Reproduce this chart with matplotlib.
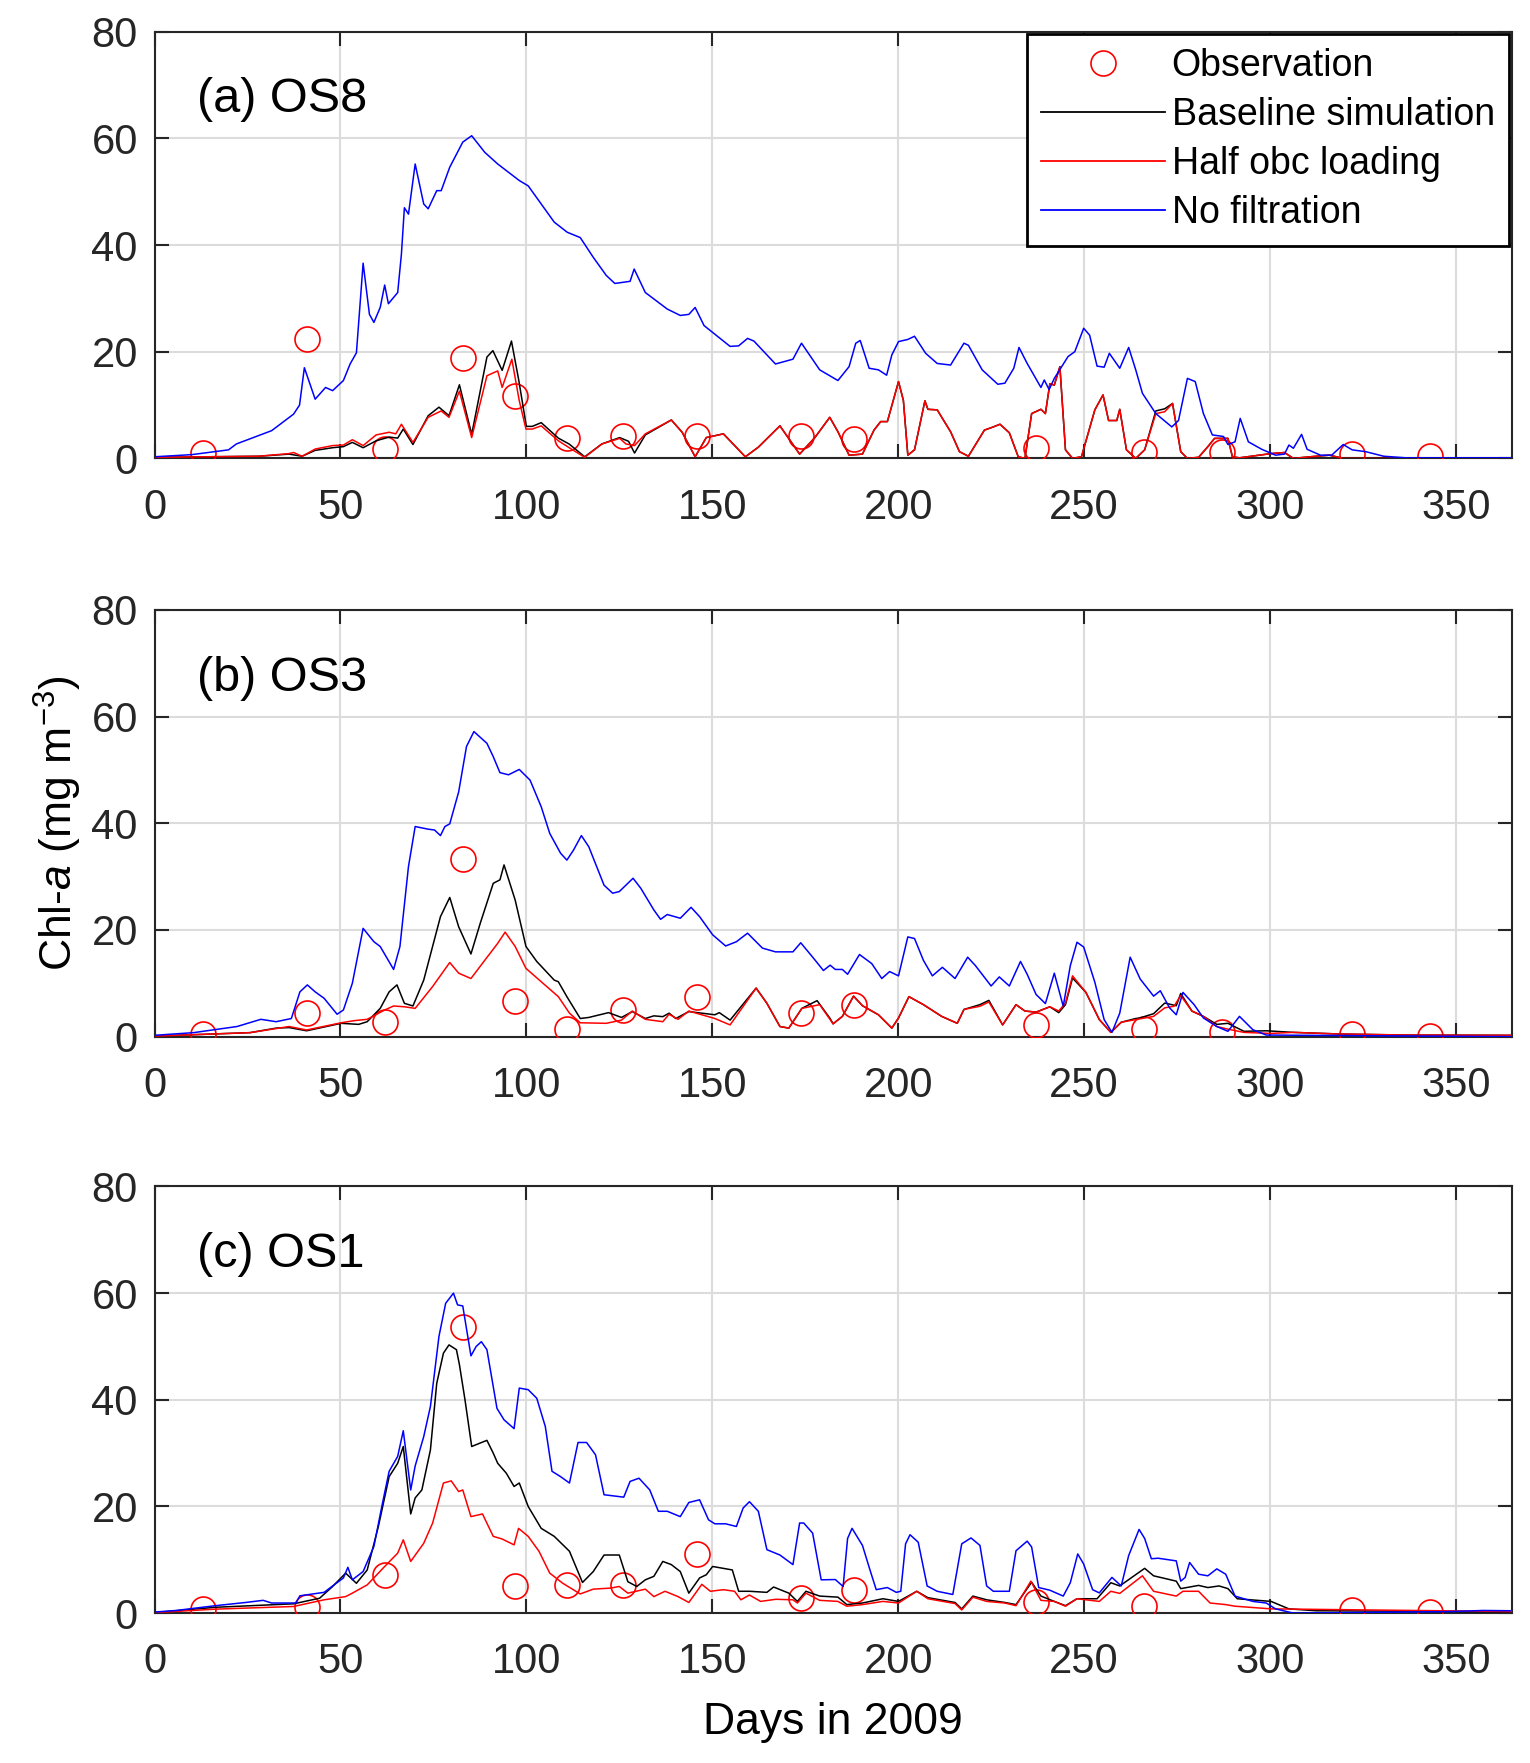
import numpy as np
import matplotlib
matplotlib.use("Agg")
import matplotlib.pyplot as plt
from matplotlib.lines import Line2D

plt.rcParams['font.family'] = ['Liberation Sans', 'DejaVu Sans']
plt.rcParams['mathtext.fontset'] = 'custom'
plt.rcParams['mathtext.rm'] = 'Liberation Sans'
plt.rcParams['mathtext.it'] = 'Liberation Sans:italic'

# observation days (same cruise dates at every station)
obs_days = [13, 41, 62, 83, 97, 111, 126, 146, 174, 188, 237, 266, 287, 322, 343]
os8_obs = [1.1, 22.4, 1.75, 18.8, 11.75, 3.9, 4.25, 4.25, 4.25, 3.6, 1.9, 1.25, 1.25, 0.75, 0.4]
os3_obs = [0.5, 4.4, 2.8, 33.25, 6.75, 1.4, 5.0, 7.4, 4.4, 6.0, 2.1, 1.5, 0.8, 0.45, 0.1]
os1_obs = [0.75, 1.1, 7.1, 53.6, 5.1, 5.3, 5.3, 11.1, 2.8, 4.3, 2.0, 1.3, np.nan, 0.6, 0.3]

# (day, chl) pairs
os8_base = [(0, 0.2), (28, 0.4), (36.2, 0.8), (39.7, 0.4), (43.2, 1.5), (47.9, 2.0), (50.8, 2.2),
            (53.2, 3.0), (56.1, 2.0), (59.6, 3.3), (63.1, 4.0), (65.4, 3.8), (66.9, 5.5), (69.5, 2.6),
            (73.6, 8.0), (76.5, 9.6), (79.2, 8.0), (82, 13.8), (85.3, 4.5), (89.4, 19.0), (91, 20.2),
            (93.5, 16.5), (96, 22.0), (98, 14.5), (100, 6.0), (101.6, 6.0), (104, 6.7), (108.6, 3.8),
            (111.5, 2.7), (115.7, 0.3), (120.3, 2.7), (125.1, 3.9), (127.5, 3.2), (129.1, 1.0), (132, 4.4),
            (139, 7.2), (141.9, 4.9), (145.4, 0.3), (148.4, 3.9), (153, 4.6), (158.9, 0.3), (162.4, 2.1),
            (168.2, 6.1), (173.5, 0.8), (177.6, 3.9), (181.6, 7.7), (183.8, 5), (186.8, 0.6), (190.4, 0.8),
            (193.5, 5.3), (195.3, 6.9), (197.1, 6.9), (200.1, 14.4), (201.4, 10.9), (202.6, 0.6),
            (204.4, 1.6), (207.2, 10.8), (208, 9.2), (210.5, 9.1), (214.1, 5), (216.5, 1.25), (218.9, 0.4),
            (223.2, 5.3), (225.6, 5.9), (227.4, 6.4), (229.9, 4.8), (232.3, 0.3), (234.1, 0), (235.9, 8.4),
            (238.4, 9.2), (239.6, 8.4), (240.8, 14), (242, 13.75), (243.5, 17.2), (245, 1.6), (246.9, 0),
            (249.3, 0.3), (252.9, 9.1), (255.1, 11.9), (256.6, 7.1), (258.8, 7.1), (259.6, 9.2),
            (261.4, 1.6), (263.9, 0), (266.3, 1.6), (269.3, 8.9), (271.7, 9.3), (273.8, 10.3), (276, 1.25),
            (277.8, 0), (280.8, 0.2), (283.3, 2.2), (285.1, 3.75), (288.7, 3.75), (289.9, 0.3),
            (291.8, 0.1), (300.3, 0.9), (303.9, 1.1), (306.3, 0), (312.4, 0.4), (316, 0.6), (319.7, 0),
            (365, 0)]
os8_half = [(0, 0.2), (28, 0.4), (36.2, 0.9), (37.4, 1.1), (39.7, 0.4), (43.2, 1.75), (47.9, 2.4),
            (50.8, 2.5), (53.2, 3.5), (56.1, 2.4), (59.6, 4.4), (63.1, 4.9), (64.9, 4.6), (66.4, 6.4),
            (69.5, 3.0), (73.6, 7.7), (77.1, 8.9), (79.2, 7.7), (82, 12.6), (85.3, 3.9), (89.4, 15.5),
            (92.3, 16.4), (93.5, 13.3), (96.1, 18.6), (98.1, 10.8), (99.9, 5.5), (101.6, 5.5), (104, 6.1),
            (108.6, 3.3), (112.1, 1.75), (115.7, 0.2), (120.3, 2.7), (125.1, 3.75), (126.8, 2.7),
            (129.1, 2.4), (132, 4.6), (139, 7.2), (141.9, 4.9), (145.4, 0.3), (148.4, 3.9), (153, 4.6),
            (158.9, 0.3), (162.4, 2.1), (168.2, 6.1), (173.5, 0.8), (177.6, 3.9), (181.6, 7.7), (183.8, 5),
            (186.8, 0.6), (190.4, 0.8), (193.5, 5.3), (195.3, 6.9), (197.1, 6.9), (200.1, 14.4),
            (201.4, 10.9), (202.6, 0.6), (204.4, 1.6), (207.2, 10.8), (208, 9.2), (210.5, 9.1), (214.1, 5),
            (216.5, 1.25), (218.9, 0.4), (223.2, 5.3), (225.6, 5.9), (227.4, 6.4), (229.9, 4.8),
            (232.3, 0.3), (234.1, 0), (235.9, 8.4), (238.4, 9.2), (239.6, 8.4), (240.8, 14), (242, 13.75),
            (243.5, 17.2), (245, 1.6), (246.9, 0), (249.3, 0.3), (252.9, 9.1), (255.1, 11.9), (256.6, 7.1),
            (258.8, 7.1), (259.6, 9.2), (261.4, 1.6), (263.9, 0), (266.3, 1.6), (269.3, 8.4), (271.7, 8.75),
            (273.8, 10.3), (276, 1.25), (277.8, 0), (280.8, 0.2), (283.3, 2.2), (285.1, 3.75),
            (288.7, 3.75), (289.9, 0.3), (291.8, 0.1), (300.3, 0.9), (303.9, 1.1), (306.3, 0), (312.4, 0.4),
            (316, 0.6), (319.7, 0), (365, 0)]
os8_nofilt = [(0, 0.3), (10, 0.7), (19.9, 1.6), (22, 2.7), (31.5, 5.2), (37.4, 8.3), (39, 10), (40.3, 17),
              (43.2, 11.1), (46, 13.3), (47.9, 12.7), (50.8, 14.6), (52.6, 17.7), (54.3, 19.8), (56.1, 36.6),
              (57.8, 27), (59, 25.5), (60.7, 28.3), (61.9, 32.5), (62.9, 29), (65.4, 31.1), (66.4, 38.3),
              (67.2, 47), (68.3, 45.8), (70.1, 55.2), (72.4, 47.7), (73.6, 46.8), (75.9, 50.2), (77.1, 50.2),
              (79.4, 54.6), (82.9, 59.3), (85.3, 60.5), (88.8, 57.4), (92.3, 55.2), (98.1, 52.1),
              (100.5, 51.1), (104, 47.7), (107.5, 44.3), (111, 42.4), (114.5, 41.4), (118, 37.7),
              (121.5, 34.3), (123.8, 32.8), (127.9, 33.2), (129, 35.5), (132, 31.1), (137.9, 28),
              (141.4, 26.8), (143.7, 27), (145.4, 28.3), (147.8, 24.9), (154.8, 21), (157.1, 21.1),
              (159.5, 22.5), (161.2, 22), (167, 17.7), (171.7, 18.6), (174, 21.6), (178.9, 16.6),
              (183.8, 14.6), (186.8, 17.2), (188.6, 21.6), (189.8, 22.1), (192.2, 16.9), (194.7, 16.6),
              (196.9, 15.6), (198.3, 19.4), (200.1, 21.9), (202.6, 22.3), (204.4, 22.9), (207.4, 19.7),
              (210.5, 17.8), (214.1, 17.5), (217.7, 21.6), (218.9, 21.2), (222.6, 16.6), (226.8, 13.9),
              (228.7, 14.1), (231.1, 16.9), (232.5, 20.8), (234.7, 17.8), (238.4, 13.3), (239.3, 14.7),
              (240.6, 12.9), (242, 15), (245.7, 19.1), (247.5, 20), (249.9, 24.4), (251.5, 23.1),
              (253.5, 17.3), (255.4, 17.1), (256.8, 19.7), (259.6, 16.9), (262, 20.8), (263.9, 16.6),
              (265.7, 12.2), (269.3, 8.4), (273.6, 5.9), (275.4, 7.1), (277.8, 15), (279.9, 14.4),
              (282.1, 8.4), (284.5, 4.4), (287.5, 4.1), (288.7, 2.6), (290.6, 3.1), (292, 7.5), (294.2, 3.1),
              (297.8, 1.7), (301.5, 0.6), (303.9, 0.8), (305.1, 2.5), (306.3, 1.9), (308.5, 4.5), (310, 1.7),
              (313.6, 0.6), (316.6, 0.6), (319.7, 2.6), (322.1, 1.6), (325.8, 1.25), (330.6, 0.4),
              (336.7, 0.1), (365, 0.1)]

os3_base = [(0, 0.1), (25.7, 0.75), (32.7, 1.6), (36.2, 1.7), (40.9, 1.1), (50.2, 2.5), (54.9, 2.3),
            (57.2, 2.8), (60.7, 5.3), (63.1, 8.4), (65.2, 9.7), (67.2, 6.25), (69.5, 5.75), (72.4, 10.6),
            (76.9, 22.5), (79.4, 26.1), (81.8, 20.6), (85.1, 15.5), (87.6, 21.25), (91.1, 28.75),
            (92.9, 29.4), (94, 32.2), (97, 25.6), (99.9, 16.9), (102.8, 14.1), (107.5, 10.6), (108.6, 10.3),
            (110.9, 7.5), (114.5, 3.4), (116.8, 3.6), (122.1, 4.5), (125.6, 3.6), (128.5, 4.7), (132, 3.4),
            (134.3, 3.9), (136.7, 3.75), (138.4, 4.4), (140.2, 3.4), (143.7, 4.7), (150.7, 4.1),
            (151.9, 4.5), (154.8, 3.1), (161.8, 9.1), (164.7, 6.25), (168.2, 1.9), (170.6, 1.6),
            (174.1, 5.3), (178.2, 6.75), (181.7, 3.4), (182.5, 2.4), (185, 3.8), (188, 7.6), (190.4, 5.8),
            (194.7, 4.1), (198.3, 1.6), (200.1, 3.5), (202.9, 7.5), (206.8, 6), (211.7, 3.8), (215.9, 2.5),
            (217.7, 5.1), (222, 6.0), (224.4, 6.8), (228.1, 2.2), (231.7, 6), (234.1, 4.8), (237.1, 4.6),
            (240.8, 5.6), (243.2, 4.5), (245, 6.0), (246.9, 11.0), (250.5, 8.3), (254.1, 3.2), (257.2, 0.8),
            (260, 2.7), (263.9, 3.4), (265, 3.5), (268.7, 4.3), (271.7, 6.3), (274.8, 5.8), (276, 8.1),
            (279, 4.8), (282.1, 3.8), (285.7, 2.3), (288.7, 2.5), (293, 1.0), (299, 1.1), (306.3, 0.8),
            (318.5, 0.5), (336.7, 0.3), (365, 0.25)]
os3_half = [(0, 0.1), (25.7, 0.75), (36.2, 1.9), (40.9, 1.25), (50.2, 2.6), (53.7, 3.0), (57.2, 3.25),
            (61.9, 5.0), (64.3, 5.75), (67.2, 5.6), (70.1, 5.3), (74.8, 9.4), (79.4, 13.9), (81.8, 11.9),
            (85.1, 10.9), (88.2, 13.75), (92.3, 17.5), (94.3, 19.6), (97, 16.9), (99.9, 12.8), (104, 10.3),
            (108.6, 7.5), (111.6, 4.4), (114.5, 2.6), (121.5, 2.5), (125.6, 3.1), (128.5, 4.8), (132, 3.25),
            (136.7, 2.8), (138.4, 4.2), (140.8, 3.25), (143.7, 4.8), (150.7, 3.4), (154.8, 2.2),
            (161.8, 9.1), (164.7, 6.25), (168.2, 1.9), (170.6, 1.6), (174.1, 5.3), (178.9, 6.0),
            (182.5, 2.4), (185, 3.8), (188, 7.6), (190.4, 5.8), (194.7, 4.1), (198.3, 1.6), (200.1, 3.5),
            (202.9, 7.5), (206.8, 6), (211.7, 3.8), (215.9, 2.5), (217.7, 5.1), (222, 5.7), (224.4, 6.5),
            (228.1, 2.2), (231.7, 6), (234.1, 4.8), (237.1, 4.6), (240.8, 5.6), (243.2, 4.8), (245, 6.3),
            (246.9, 11.4), (250.5, 8.3), (254.1, 3.2), (257.2, 0.8), (260, 2.7), (263.9, 3.2), (268.7, 3.8),
            (271.7, 5.4), (274.2, 5.7), (276, 7.7), (279, 4.8), (282.1, 3.8), (285.7, 1.9), (288.7, 1.4),
            (293, 0.8), (300.3, 0.6), (306.3, 0.8), (318.5, 0.5), (336.7, 0.3), (365, 0.25)]
os3_nofilt = [(0, 0.25), (10.5, 0.75), (22.2, 1.9), (28.6, 3.25), (32.7, 2.8), (36.8, 3.4), (39.1, 8.4),
              (41.1, 9.7), (43.2, 8.4), (45.6, 7.2), (49.1, 4.2), (50.8, 5), (53.2, 10), (56.1, 20.3),
              (59, 17.8), (60.7, 16.9), (64.3, 12.6), (66, 16.9), (68.3, 31.9), (70.1, 39.4), (73.6, 38.9),
              (75.3, 38.75), (76.9, 37.7), (78.1, 39.4), (79.4, 39.9), (81.8, 45.9), (83.9, 54.4),
              (85.9, 57.2), (89.4, 55), (91.1, 52.5), (92.9, 49.5), (95.2, 49.1), (98.1, 50.1), (101, 48.1),
              (104, 43.1), (106.3, 38.1), (109.2, 34.4), (110.9, 33.1), (112.7, 35), (114.8, 37.7),
              (116.8, 35.6), (120.9, 28.4), (123.2, 26.9), (125, 27.2), (128.7, 29.7), (130.8, 27.8),
              (134.3, 23.75), (136.1, 22), (137.9, 22.9), (141.4, 22.2), (144.3, 24.25), (146.6, 22.5),
              (150.1, 19.1), (153.6, 17), (156.5, 17.8), (159.5, 19.4), (163.5, 16.6), (167, 15.9),
              (171.7, 15.9), (173.8, 17.6), (177.6, 14.4), (179.9, 12.4), (181.7, 13.4), (183.1, 12.6),
              (185, 12.6), (186.4, 11.7), (189.6, 15.4), (192.9, 13.7), (195.6, 10.9), (197.7, 12.2),
              (200.1, 11.4), (202.6, 18.7), (204.4, 18.4), (206.8, 14.3), (209.2, 11.4), (211.9, 13),
              (215.3, 10.9), (218.7, 14.9), (220.8, 13.3), (225, 9.5), (227.2, 11.2), (229.9, 9.5),
              (232.9, 14.1), (234.7, 11.7), (237.1, 7.9), (239.6, 6.2), (242, 11.9), (244.4, 5.7),
              (246.3, 13.3), (248.1, 17.7), (249.9, 16.8), (252.9, 10.2), (255.4, 3.2), (257.5, 0.8),
              (259.6, 4.4), (262.4, 14.9), (265.1, 10.8), (268.7, 7.6), (270.5, 8.6), (273, 5.4),
              (274.8, 4.1), (276.6, 8.3), (279.6, 6), (282.1, 3.5), (285.7, 1.9), (288.7, 1.0), (291.8, 3.8),
              (295.4, 1.3), (299, 0.3), (365, 0)]

os1_base = [(0, 0.1), (16.4, 1.1), (37.4, 1.75), (44.4, 2.8), (47.9, 5), (51.4, 7.5), (54.3, 5.6),
            (57.2, 8.1), (60.2, 16.25), (63.1, 25.6), (65.4, 28.1), (66.9, 31.25), (68.9, 18.6),
            (70.1, 21.6), (71.9, 23.1), (74.2, 30.6), (75.9, 43.1), (77.7, 48.75), (79.2, 50.3),
            (81.2, 49.4), (82, 46.6), (83.5, 40), (85.3, 31.25), (87.6, 31.9), (89.4, 32.4), (91.1, 30),
            (92.3, 28.1), (94.6, 26.25), (96.7, 23.75), (98.1, 24.4), (100.5, 20), (104, 15.9),
            (107.5, 14.4), (111.6, 11.6), (115.1, 5.75), (118, 7.8), (120.9, 10.9), (125, 10.9),
            (127.3, 5.9), (129.7, 5), (132, 6.25), (134.3, 6.9), (136.7, 9.7), (139, 9.1), (141.4, 7.8),
            (143.7, 3.75), (146.6, 6.6), (148.4, 7.2), (150.1, 8.75), (155.4, 8.1), (157.1, 4.1), (160, 4.1),
            (164.7, 3.9), (166.5, 4.9), (170.6, 3.75), (172.9, 2.2), (175.2, 4.1), (178.9, 3.2),
            (183.8, 3.0), (186.2, 1.6), (190.4, 1.9), (195.9, 2.7), (200.1, 2.2), (205, 4.1), (208, 2.9),
            (215.3, 2.0), (217.1, 0.8), (220.1, 3.2), (223.8, 2.5), (228.7, 2.0), (231.7, 1.6),
            (235.9, 5.8), (238.4, 3.2), (242, 2.2), (245, 1.4), (248.1, 2.7), (253.5, 2.7), (257.2, 5.7),
            (259.6, 5.1), (266.3, 8.4), (268.7, 7), (274.8, 6), (276, 4.6), (280.8, 5.2), (283.3, 4.8),
            (286.3, 5.1), (288.7, 4.6), (291.2, 2.7), (300.3, 2.2), (305.1, 0.8), (312.4, 0.45), (365, 0.25)]
os1_half = [(0, 0.1), (16.4, 0.75), (37.4, 1.25), (45.6, 2.5), (51.4, 3.1), (53.2, 3.75), (57.2, 5.3),
            (61.9, 8.75), (65.4, 11.25), (66.9, 13.75), (68.9, 9.7), (72.4, 13.1), (74.8, 16.9),
            (77.7, 24.4), (79.8, 24.8), (81.8, 22.8), (82.9, 23.1), (85.1, 18.1), (88.2, 18.6),
            (91.1, 14.4), (93.5, 13.9), (96.7, 12.8), (97.9, 15.9), (100.5, 14.4), (103.4, 11.6),
            (106.3, 7.5), (109.8, 5.6), (114.5, 3.6), (118, 4.5), (122.7, 4.7), (125, 5.0), (127.3, 3.75),
            (132, 4.5), (134.3, 3.1), (137.3, 4.1), (140.8, 3.1), (143.7, 2.0), (147.2, 5.4), (149.5, 4.1),
            (153, 4.4), (156, 4.1), (157.7, 2.5), (160, 3.4), (163, 2.2), (167.1, 2.6), (171.7, 2.5),
            (172.9, 1.9), (175.2, 3.75), (178.9, 2.4), (183.8, 2.2), (186.2, 1.3), (190.4, 1.6),
            (195.9, 2.2), (200.1, 1.9), (205, 4.1), (208, 2.7), (215.3, 1.8), (217.1, 0.6), (220.1, 3.0),
            (223.8, 2.2), (228.7, 1.9), (231.7, 1.4), (235.7, 6.0), (238.4, 2.4), (242, 2.2), (245, 1.3),
            (248.1, 2.7), (254.1, 2.2), (257.2, 4.1), (259.6, 3.7), (265.7, 7.0), (268.7, 4.1),
            (274.8, 3.2), (276.6, 4.1), (280.8, 4.1), (283.9, 1.9), (288.1, 1.6), (290.6, 1.3),
            (300.3, 0.8), (365, 0.3)]
os1_nofilt = [(0, 0.2), (5.8, 0.5), (16.4, 1.4), (24.5, 2.0), (29.2, 2.4), (31.5, 1.9), (38, 1.9),
              (39.1, 3.25), (45.6, 3.9), (47.9, 5.1), (50.8, 6.6), (52, 8.6), (53.2, 6.25), (56.1, 7.8),
              (59, 12.5), (61.3, 20.6), (63.1, 26.6), (65.4, 29.4), (66.9, 34.2), (68.9, 23.1), (70.1, 27.6),
              (72.4, 33.1), (74.2, 38.75), (76.5, 51.9), (78.3, 58.1), (80.4, 60), (81.5, 57.8),
              (82.9, 57.6), (85.1, 48.25), (86.5, 50), (87.9, 50.9), (89.4, 49.4), (92.1, 38.4), (94, 36.25),
              (96.7, 34.6), (98.1, 42.2), (100.5, 41.9), (102.8, 40.3), (105.1, 35), (106.9, 26.6),
              (109.2, 25.6), (111.6, 24.4), (113.9, 32), (116.2, 32), (118.6, 29.7), (120.9, 22.2),
              (126.2, 21.75), (127.9, 24.7), (130.3, 25.3), (133.2, 23.1), (135.5, 19.1), (137.9, 19.1),
              (141.4, 18.1), (143.7, 20.75), (146.6, 21.25), (149, 17.5), (150.7, 16.75), (153.6, 16.75),
              (156.5, 16.25), (158.3, 19.7), (160, 20.9), (162.4, 19.1), (164.7, 11.9), (168.2, 10.9),
              (171.7, 9.1), (173.5, 16.9), (174.6, 16.9), (177, 15), (179.3, 6.25), (183.1, 6.3),
              (185.2, 5.0), (186.4, 14), (187.6, 15.9), (190.4, 12.7), (192.2, 8.6), (194.1, 4.4),
              (197.1, 4.8), (199.5, 3.9), (200.7, 4.1), (202, 13), (203.2, 14.7), (205.4, 13.3),
              (207.8, 5.1), (210.5, 4.1), (214.7, 3.5), (217.1, 13), (219.6, 14.1), (222, 12.7),
              (223.8, 5.1), (225.6, 4.1), (229.9, 4.1), (231.7, 11.7), (234.7, 13.5), (235.9, 12.4),
              (237.8, 4.8), (240.8, 4.3), (244.4, 3.2), (246.3, 5.7), (248.3, 11.1), (249.9, 9.2),
              (252.3, 4.4), (254.1, 3.8), (257.5, 6.7), (260, 5.1), (262, 10.8), (264.8, 15.7), (266.3, 14),
              (268.1, 10.2), (269.9, 10.3), (274.8, 9.8), (276, 6), (277.2, 6.7), (278.4, 9.5), (280.8, 7.3),
              (283.3, 7), (285.7, 8.3), (288.1, 7.3), (290.6, 3.2), (295.4, 2.2), (299, 1.9), (301.5, 0.8),
              (306.3, 0), (348.8, 0.3), (357.3, 0.5), (364.6, 0.45)]

panels = [("(a) OS8", os8_obs, os8_base, os8_half, os8_nofilt),
          ("(b) OS3", os3_obs, os3_base, os3_half, os3_nofilt),
          ("(c) OS1", os1_obs, os1_base, os1_half, os1_nofilt)]

axis_col = '#262626'
tick_fs = 30

fig = plt.figure(figsize=(15.3, 17.63), dpi=100)
bottoms = [0.740, 0.412, 0.085]
axes = []
for (label, obs, base, half, nofilt), b in zip(panels, bottoms):
    ax = fig.add_axes([0.101, b, 0.887, 0.242])
    axes.append(ax)
    ax.plot(obs_days, obs, 'o', ms=18, mfc='none', mec='red', mew=1.2, zorder=3)
    for series, col in [(base, 'black'), (half, 'red'), (nofilt, 'blue')]:
        d, v = zip(*series)
        ax.plot(d, v, color=col, lw=1.1, zorder=4)
    ax.set_xlim(0, 365)
    ax.set_ylim(0, 80)
    ax.set_xticks(np.arange(0, 351, 50))
    ax.set_yticks(np.arange(0, 81, 20))
    ax.grid(True, color='#dcdcdc', lw=1.5)
    ax.set_axisbelow(True)
    ax.tick_params(direction='in', length=10, width=1.5, colors=axis_col, labelsize=tick_fs,
                   top=True, right=True)
    ax.tick_params(axis='x', pad=21)
    ax.tick_params(axis='y', pad=12)
    for sp in ax.spines.values():
        sp.set_linewidth(1.5)
        sp.set_color(axis_col)
    ax.text(0.031, 0.84, label, transform=ax.transAxes, fontsize=35, va='center', ha='left')

handles = [Line2D([], [], ls='none', marker='o', ms=18, mfc='none', mec='red', mew=1.2),
           Line2D([], [], color='black', lw=1.3),
           Line2D([], [], color='red', lw=1.3),
           Line2D([], [], color='blue', lw=1.3)]
leg = axes[0].legend(handles, ['Observation', 'Baseline simulation', 'Half obc loading', 'No filtration'],
                     loc='upper right', bbox_to_anchor=(0.998, 0.995), fontsize=27, frameon=True,
                     fancybox=False, edgecolor='black', framealpha=1, handlelength=3.3,
                     handletextpad=0.18, labelspacing=0.35, borderpad=0.38, borderaxespad=0.0)
leg.get_frame().set_linewidth(2.0)
leg.set_zorder(10)

axes[1].set_ylabel(r'Chl-$\mathit{a}$ (mg m$^{\mathrm{-3}}$)', fontsize=32)
axes[1].yaxis.set_label_coords(-0.052, 0.5)
axes[2].set_xlabel('Days in 2009', fontsize=32, labelpad=14)

fig.savefig('out.png', dpi=100)
